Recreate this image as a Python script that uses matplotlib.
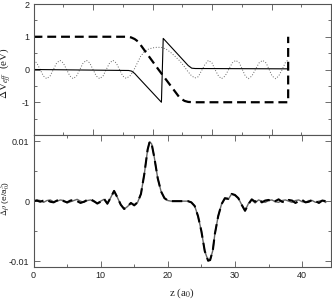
import matplotlib
matplotlib.use("Agg")
import matplotlib.pyplot as plt
from matplotlib.ticker import MultipleLocator

plt.rcParams["font.family"] = ["Liberation Sans", "DejaVu Sans"]
plt.rcParams["mathtext.fontset"] = "stix"

# ---- top panel: effective potential change (own x units, 0..50) ----
top_dash_z = [0, 15.5, 16.4, 17.0, 17.6, 21.0, 24.6, 25.4, 26.0, 27.0, 42.8, 42.8]
top_dash_v = [1.0, 1.0, 0.98, 0.93, 0.85, 0.0, -0.87, -0.96, -0.99, -1.0, -1.0, 1.0]

top_solid_z = [0, 16.0, 16.5, 17.0, 17.6, 21.5, 21.8, 26.0, 26.6, 27.2, 42.8]
top_solid_v = [0.0, -0.03, -0.05, -0.12, -0.24, -1.0, 0.95, 0.12, 0.04, 0.03, 0.02]

top_dot_z = [0, 0.56, 1.11, 1.67, 2.22, 2.78, 3.34, 3.89, 4.45, 5.0, 5.56, 6.12,
             6.67, 7.23, 7.79, 8.34, 8.9, 9.45, 10.0, 10.56, 11.12, 11.68, 12.23,
             12.79, 13.35, 13.9, 14.46, 15.0, 15.57, 16.2, 16.8, 17.4, 18.0, 18.6,
             19.3, 20.0, 20.8, 21.6, 22.3, 23.0, 23.8, 24.6, 25.3, 25.9, 26.5, 27.1,
             27.7, 28.2, 28.8, 29.4, 30.0, 30.5, 31.1, 31.6, 32.2, 32.8, 33.4, 34.0,
             34.6, 35.1, 35.6, 36.1, 36.7, 37.3, 37.9, 38.5, 39.1, 39.6, 40.1, 40.7,
             41.2, 41.8, 42.3, 42.7]
top_dot_v = [0.28, 0.2, 0.0, -0.2, -0.28, -0.2, 0.0, 0.2, 0.28, 0.2, 0.0, -0.2,
             -0.28, -0.2, 0.0, 0.2, 0.28, 0.2, 0.0, -0.2, -0.28, -0.2, 0.0,
             0.2, 0.28, 0.2, 0.0, -0.2, -0.27, -0.2, -0.04, 0.18, 0.4, 0.54,
             0.62, 0.66, 0.68, 0.67, 0.62, 0.53, 0.4, 0.26, 0.1, -0.05, -0.18, -0.26,
             -0.22, -0.05, 0.15, 0.28, 0.2, 0.0, -0.2, -0.28, -0.2, 0.0, 0.2, 0.28,
             0.2, 0.0, -0.2, -0.28, -0.2, 0.0, 0.2, 0.28, 0.2, 0.0, -0.2, -0.28,
             -0.2, 0.0, 0.2, 0.28]

# ---- bottom panel: charge density change (units of 1e-3 e/a0^3) ----
bot_z = [0, 0.5, 1, 1.5, 2, 2.5, 3, 3.5, 4, 4.5, 5, 5.5, 6, 6.5, 7, 7.5, 8, 8.5,
         9, 9.5, 10, 10.5, 11, 11.5, 12, 12.5, 13, 13.5, 14, 14.5, 15, 15.5, 16,
         16.5, 17, 17.3, 17.6, 18, 18.5, 19, 19.5, 20, 20.5, 21, 22, 23, 23.5,
         24, 24.5, 25, 25.5, 26, 26.3, 26.7, 27, 27.5, 28, 28.5, 29, 29.5, 30,
         30.5, 31, 31.5, 32, 32.5, 33, 33.5, 34, 34.5, 35, 35.5, 36, 36.5, 37,
         37.5, 38, 38.5, 39, 39.5, 40, 40.5, 41, 41.5, 42, 42.5, 43, 43.5]
bot_solid = [0.0, 0.2, 0.1, -0.2, 0.1, 0.2, -0.1, 0.0, 0.2, 0.1, -0.3, -0.1, 0.1,
             0.3, 0.0, -0.2, 0.1, 0.2, -0.1, -0.3, 0.0, 0.3, -0.5, 0.6, 1.7, 0.6,
             -0.6, -1.3, -0.9, -0.3, -0.6, -0.2, 1.2, 4.5, 8.6, 9.9, 9.5, 7.2,
             3.8, 1.6, 0.5, 0.1, 0.0, 0.0, 0.0, 0.0, -0.2, -0.8, -2.5, -5.0, -8.3,
             -9.9, -9.8, -8.2, -5.5, -2.5, -0.5, 0.4, 0.3, 1.2, 1.1, 0.5, -0.6,
             -1.6, -0.4, 0.2, -0.3, 0.2, 0.0, -0.2, 0.1, 0.2, -0.1, -0.2, 0.1, 0.2,
             0.0, -0.2, 0.1, 0.2, -0.1, -0.2, 0.1, 0.1, -0.2, 0.0, 0.1, -0.2]
bot_dash = [0.0, 0.1, -0.1, 0.1, 0.2, -0.1, -0.2, 0.1, 0.3, 0.0, -0.2, 0.1, 0.2,
            0.0, -0.3, -0.1, 0.2, 0.3, 0.0, -0.4, -0.1, 0.4, -0.4, 0.6, 1.7, 0.6,
            -0.6, -1.3, -0.9, -0.3, -0.7, -0.2, 1.2, 4.5, 8.6, 9.9, 9.5, 7.2,
            3.8, 1.6, 0.5, 0.1, 0.0, 0.0, 0.0, 0.0, -0.2, -0.8, -2.5, -5.0, -8.3,
            -9.9, -9.8, -8.2, -5.5, -2.5, -0.5, 0.5, 0.4, 1.2, 1.0, 0.5, -0.6,
            -1.6, -0.5, 0.3, -0.1, 0.3, -0.2, 0.1, 0.2, -0.1, 0.0, 0.3, -0.1, -0.2,
            0.2, 0.1, -0.3, 0.0, 0.2, -0.2, -0.1, 0.2, 0.0, -0.3, 0.1, 0.0]

ink = "#222222"
spine = "#555555"

fig = plt.figure(figsize=(3.32, 3.0), dpi=100)
ax1 = fig.add_axes([33.5 / 332, 165 / 300, 297.5 / 332, 131 / 300])
ax2 = fig.add_axes([33.5 / 332, 32.7 / 300, 297.5 / 332, 132.3 / 300])

# top panel
ax1.plot(top_dot_z, top_dot_v, color="#666666", lw=0.7, ls=(0, (1, 1.8)))
ax1.plot(top_solid_z, top_solid_v, color="black", lw=0.8)
ax1.plot(top_dash_z, top_dash_v, color="black", lw=1.6, ls=(0, (4, 2.2)))
ax1.set_xlim(0, 50)
ax1.set_ylim(-2, 2)
ax1.xaxis.set_major_locator(MultipleLocator(10))
ax1.xaxis.set_minor_locator(MultipleLocator(5))
ax1.yaxis.set_major_locator(MultipleLocator(1))
ax1.yaxis.set_minor_locator(MultipleLocator(0.5))
ax1.set_xticklabels([])
ax1.set_yticks([2, 1, 0, -1])
ax1.set_yticklabels(["2", "1", "0", "-1"])
ax1.set_ylabel(r"$\Delta$V$_{eff}$  (eV)", fontsize=8, color=ink,
               family="Liberation Serif")
ax1.yaxis.set_label_coords(-0.068, 0.47)

# bottom panel
ax2.plot(bot_z, bot_solid, color="#666666", lw=1.0)
ax2.plot(bot_z, bot_dash, color="black", lw=1.5, ls=(0, (5, 2.5)))
ax2.set_xlim(0, 44.3)
ax2.set_ylim(-11, 11)
ax2.xaxis.set_major_locator(MultipleLocator(10))
ax2.xaxis.set_minor_locator(MultipleLocator(5))
ax2.set_yticks([10, 0, -10])
ax2.set_yticklabels(["0.01", "0", "-0.01"])
ax2.yaxis.set_minor_locator(MultipleLocator(5))
ax2.set_xlabel(r"z (a$_0$)", fontsize=8, color=ink, family="Liberation Serif",
               labelpad=4)
ax2.set_ylabel(r"$\Delta\rho$ (e/a$_0^3$)", fontsize=6, color=ink)
ax2.yaxis.set_label_coords(-0.072, 0.52)

for ax in (ax1, ax2):
    for s in ax.spines.values():
        s.set_color(spine)
        s.set_linewidth(0.8)
    ax.tick_params(which="both", direction="in", top=True, right=True,
                   colors=spine, labelcolor=ink, labelsize=6.5, width=0.6)
    ax.tick_params(which="major", length=4, pad=3)
    ax.tick_params(which="minor", length=2.5)

fig.savefig("out.png", dpi=100)
